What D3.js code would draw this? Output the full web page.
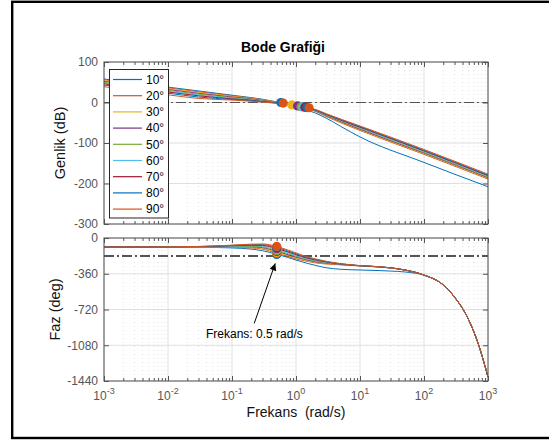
<!DOCTYPE html>
<html>
<head>
<meta charset="utf-8">
<script src="https://cdn.jsdelivr.net/npm/d3@7"></script>
<style>
body{margin:0;background:#fff;}
svg{display:block;font-family:"Liberation Sans",Arial,sans-serif;}
</style>
</head>
<body>
<div id="chart"></div>
<script>
// design labels (phase margin) and matlab line colours
var designs = ["10°", "20°", "30°", "40°", "50°", "60°", "70°", "80°", "90°"];
var colors = ["#0072BD", "#D95319", "#EDB120", "#7E2F8E", "#77AC30", "#4DBEEE", "#A2142F", "#0072BD", "#D95319"];

// magnitude (dB)
var magFreq = [0.001, 0.01, 0.03, 0.1, 0.2, 0.3, 0.5, 0.7, 1, 1.5, 2, 3, 5, 10, 100, 1000];
var magnitude = [
  [58, 38, 28.5, 18, 12, 8, 1.5, -3, -10, -19, -26, -39, -59, -85, -148, -208],
  [56, 36, 26.5, 16.5, 11, 7, 1, -3, -8, -15.5, -22, -35, -50, -69, -128, -189],
  [54, 34, 24.5, 15, 10, 6, 0.5, -3.5, -7.5, -15, -21, -34, -48.5, -67.5, -126, -187],
  [52, 32, 22.5, 13.5, 9, 5, 0, -3.5, -7.5, -14.5, -20.5, -33, -47, -66, -124.5, -185.5],
  [50, 30, 20.5, 12, 8, 4, 0, -4, -7.5, -14, -20, -32, -45.5, -64, -123, -184],
  [48, 28, 18.5, 10.5, 6.5, 3, -0.5, -4, -8, -13.5, -19, -31, -44.5, -62.5, -121, -182],
  [46, 26, 16.5, 9, 5.5, 2.5, -1, -4.5, -8, -13, -18.5, -30, -43.5, -61, -119.5, -180.5],
  [43, 23, 13.5, 7.5, 4.5, 1.5, -1.5, -4.5, -8.5, -12.5, -18, -29, -42, -59.5, -118, -179],
  [39, 19, 10, 6, 3, 1, -2, -5, -9, -12, -17, -28, -41, -58, -116, -177]
];
var magMarkFreq = [0.58, 0.63, 0.86, 1.06, 1.2, 1.28, 1.38, 1.48, 1.6];
var magMarkDb = [0, -1.5, -6, -8.5, -10.5, -11, -11.5, -12.5, -13];

// phase (deg)
var phaseFreq = [0.001, 0.01, 0.03, 0.1, 0.2, 0.3, 0.5, 0.7, 1, 1.5, 2, 3, 5, 10, 20, 30, 50, 100, 200, 300, 500, 700, 1000];
var phase = [
  [-90, -91, -93, -100, -112, -128, -165, -190, -222, -255, -275, -300, -315, -322, -328, -333, -342, -375, -473, -595, -825, -1060, -1400],
  [-90, -90, -91, -95, -100, -112, -155, -180, -210, -235, -250, -262, -270, -281, -292, -302, -323, -373, -473, -595, -825, -1060, -1400],
  [-90, -90, -90, -92, -95, -105, -145, -171, -201, -229, -244, -258, -268, -280.5, -291.5, -301.5, -323, -373, -473, -595, -825, -1060, -1400],
  [-90, -90, -89, -88, -89, -97, -135, -162, -193, -222, -239, -254, -267, -280, -291, -301, -322.5, -373, -473, -595, -825, -1060, -1400],
  [-90, -90, -88, -85, -84, -90, -125, -152, -184, -216, -233, -250, -265, -280, -291, -301, -322.5, -373, -473, -595, -825, -1060, -1400],
  [-90, -90, -88, -82, -78, -82, -115, -143, -176, -209, -227, -246, -263, -279.5, -290, -300.5, -322, -373, -473, -595, -825, -1060, -1400],
  [-90, -89, -87, -78, -73, -75, -105, -134, -167, -203, -221, -242, -262, -279, -290, -300.5, -322, -373, -473, -595, -825, -1060, -1400],
  [-90, -89, -86, -75, -67, -67, -95, -124, -159, -196, -216, -239, -260, -278.5, -289.5, -300, -322, -373, -473, -595, -825, -1060, -1400],
  [-90, -89, -85, -72, -62, -60, -85, -115, -150, -190, -210, -235, -258, -278, -289, -300, -322, -373, -473, -595, -825, -1060, -1400]
];
var phaseMarkFreq = [0.5, 0.5, 0.5, 0.5, 0.5, 0.5, 0.5, 0.5, 0.5];
var phaseMarkDeg = [-165, -155, -145, -135, -125, -115, -105, -95, -85];

// ticks
var decades = [1e-3, 1e-2, 1e-1, 1e0, 1e1, 1e2, 1e3];
var decadeExp = ["-3", "-2", "-1", "0", "1", "2", "3"];
var magTicks = [100, 0, -100, -200, -300];
var phaseTicks = [0, -360, -720, -1080, -1440];
var magRef = 0, phaseRef = -180;

var left = 104, right = 488;
var svg = d3.select("#chart").append("svg").attr("width", 549).attr("height", 440);

// figure frame
svg.append("rect").attr("x", 12.2).attr("y", 1.8).attr("width", 600).attr("height", 436.2)
    .attr("fill", "none").attr("stroke", "#000").attr("stroke-width", 2.4);

var x = d3.scaleLog().domain([1e-3, 1e3]).range([left, right]);
var minor = [];
decades.slice(0, 6).forEach(function(d){
    for (var k = 2; k < 10; k++) minor.push(d * k);
});

var yMag = d3.scaleLinear().domain([-300, 100]).range([224, 62]);
var yPh = d3.scaleLinear().domain([-1440, 0]).range([381, 238]);

svg.append("text").attr("x", 283).attr("y", 52).attr("text-anchor", "middle")
    .style("font-size", "14px").style("font-weight", "bold").attr("fill", "#000").text("Bode Grafiği");

function panel(y, yTicks, refVal, refWidth, freq, rows, markF, markV, id){
    var top = y.range()[1], bottom = y.range()[0];
    var g = svg.append("g");

    g.append("rect").attr("x", left).attr("y", top).attr("width", right - left).attr("height", bottom - top).attr("fill", "#fff");

    //grid
    g.selectAll(".minor").data(minor).enter().append("line")
        .attr("x1", (d) => x(d)).attr("x2", (d) => x(d)).attr("y1", top).attr("y2", bottom)
        .attr("stroke", "#e2e2e2").attr("stroke-width", 1).attr("stroke-dasharray", "1,3");
    g.selectAll(".vgrid").data(decades.slice(1, 6)).enter().append("line")
        .attr("x1", (d) => x(d)).attr("x2", (d) => x(d)).attr("y1", top).attr("y2", bottom)
        .attr("stroke", "#e0e0e0").attr("stroke-width", 1);
    g.selectAll(".hgrid").data(yTicks.slice(1, yTicks.length - 1)).enter().append("line")
        .attr("x1", left).attr("x2", right).attr("y1", (d) => y(d)).attr("y2", (d) => y(d))
        .attr("stroke", "#e0e0e0").attr("stroke-width", 1);

    g.append("line").attr("x1", left).attr("x2", right).attr("y1", y(refVal)).attr("y2", y(refVal))
        .attr("stroke", "#555").attr("stroke-width", refWidth).attr("stroke-dasharray", "10,3,2,3");

    svg.append("clipPath").attr("id", id).append("rect")
        .attr("x", left).attr("y", top).attr("width", right - left).attr("height", bottom - top);

    var line = d3.line().x((d) => x(d[0])).y((d) => y(d[1])).curve(d3.curveMonotoneX);
    g.append("g").attr("clip-path", "url(#" + id + ")").selectAll("path").data(rows).enter().append("path")
        .attr("d", (r) => line(r.map((v, i) => [freq[i], v])))
        .attr("fill", "none").attr("stroke", (r, i) => colors[i]).attr("stroke-width", 1);

    g.selectAll(".mark").data(markV).enter().append("circle")
        .attr("cx", (d, i) => x(markF[i])).attr("cy", (d) => y(d)).attr("r", 4.6)
        .attr("fill", (d, i) => colors[i]);

    //axes, ticks inward on all four sides
    var axisStyle = function(a){
        a.select(".domain").remove();
        a.selectAll(".tick line").attr("stroke", "#555");
        a.selectAll("text").attr("fill", "#555").style("font-size", "12px").style("font-family", "Liberation Sans, Arial, sans-serif");
    };
    g.append("g").attr("transform", "translate(" + left + ",0)")
        .call(d3.axisLeft(y).tickValues(yTicks).tickSize(-5).tickPadding(6).tickFormat((d) => String(d))).call(axisStyle);
    g.append("g").attr("transform", "translate(" + right + ",0)")
        .call(d3.axisRight(y).tickValues(yTicks).tickSize(-5).tickFormat("")).call(axisStyle);
    [[d3.axisBottom, bottom], [d3.axisTop, top]].forEach(function(p){
        g.append("g").attr("transform", "translate(0," + p[1] + ")")
            .call(p[0](x).tickValues(decades).tickSize(-5).tickFormat("")).call(axisStyle);
        g.append("g").attr("transform", "translate(0," + p[1] + ")")
            .call(p[0](x).tickValues(minor).tickSize(-3).tickFormat("")).call(axisStyle);
    });

    g.append("rect").attr("x", left).attr("y", top).attr("width", right - left).attr("height", bottom - top)
        .attr("fill", "none").attr("stroke", "#555").attr("stroke-width", 1.1);
    return g;
}

panel(yMag, magTicks, magRef, 1.2, magFreq, magnitude, magMarkFreq, magMarkDb, "clipMag");
panel(yPh, phaseTicks, phaseRef, 2, phaseFreq, phase, phaseMarkFreq, phaseMarkDeg, "clipPh");

// x tick labels 10^n
var xl = svg.append("g").selectAll("text").data(decades).enter().append("text")
    .attr("x", (d) => x(d)).attr("y", 399.5).attr("text-anchor", "middle")
    .attr("fill", "#555").style("font-size", "12px");
xl.append("tspan").text("10");
xl.append("tspan").attr("dy", -6).style("font-size", "9px").text((d, i) => decadeExp[i]);

svg.append("text").attr("x", 296).attr("y", 417).attr("text-anchor", "middle")
    .style("font-size", "14px").attr("fill", "#111").attr("xml:space", "preserve").text("Frekans  (rad/s)");
svg.append("text").attr("transform", "translate(65," + ((62 + 224) / 2) + ") rotate(-90)").attr("text-anchor", "middle")
    .style("font-size", "14.5px").attr("fill", "#111").text("Genlik (dB)");
svg.append("text").attr("transform", "translate(60," + ((238 + 381) / 2) + ") rotate(-90)").attr("text-anchor", "middle")
    .style("font-size", "14.5px").attr("fill", "#111").text("Faz (deg)");

// annotation arrow to 0.5 rad/s
svg.append("defs").append("marker").attr("id", "head").attr("viewBox", "0 0 10 10")
    .attr("refX", 10).attr("refY", 5).attr("markerWidth", 10).attr("markerHeight", 7)
    .attr("markerUnits", "userSpaceOnUse").attr("orient", "auto")
    .append("path").attr("d", "M0,0L10,5L0,10z").attr("fill", "#000");
var tipX = x(phaseMarkFreq[0]) - 1.5, tipY = yPh(phaseMarkDeg[0]) + 9;
svg.append("line").attr("x1", tipX - 21).attr("y1", tipY + 60).attr("x2", tipX).attr("y2", tipY)
    .attr("stroke", "#000").attr("stroke-width", 1).attr("marker-end", "url(#head)");
svg.append("text").attr("x", 206).attr("y", 337.5).style("font-size", "12px").attr("fill", "#000")
    .text("Frekans: " + phaseMarkFreq[0] + " rad/s");

// legend
var lg = svg.append("g");
lg.append("rect").attr("x", 109.5).attr("y", 69.5).attr("width", 59).attr("height", 148.5)
    .attr("fill", "#fff").attr("stroke", "#262626").attr("stroke-width", 1);
var item = lg.selectAll(".item").data(designs).enter().append("g")
    .attr("transform", (d, i) => "translate(0," + (79.5 + i * 16.2) + ")");
item.append("line").attr("x1", 113).attr("x2", 142).attr("stroke", (d, i) => colors[i]).attr("stroke-width", 1.2);
item.append("text").attr("x", 146).attr("dy", "0.35em").style("font-size", "12px").attr("fill", "#000").text((d) => d);
</script>
</body>
</html>
